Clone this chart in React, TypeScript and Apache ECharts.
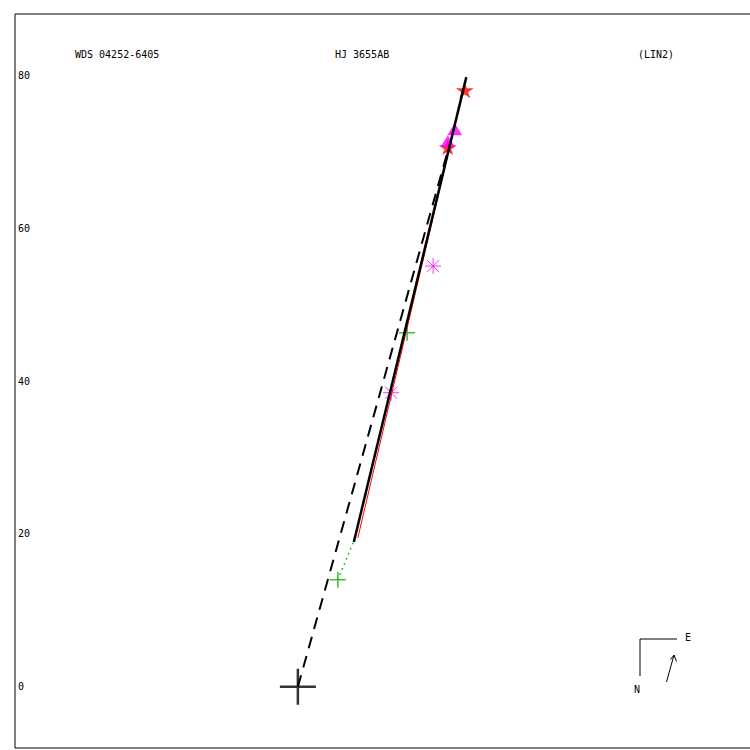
import React, { useEffect, useRef } from "react";
import * as echarts from "echarts";

// Titles
const titleLeft = "WDS 04252-6405";
const titleMid = "HJ 3655AB";
const titleRight = "(LIN2)";

// Y tick labels
const yTicks = [0, 20, 40, 60, 80];

// Linear fit (solid black)
const fitLine: number[][] = [[7.32, 18.95], [22.03, 79.74]];
// Previous / comparison path (red)
const redLine: number[][] = [[7.84, 19.48], [21.44, 77.39]];
// Dashed line from primary
const dashedLine: number[][] = [[0, 0], [19.74, 70.59]];
// O-C dotted line (green)
const ocLine: number[][] = [[5.23, 13.99], [7.32, 19.08]];

// Observations
const primary: number[][] = [[0, 0]];
const greenCross: number[][] = [[5.23, 13.99], [14.29, 46.31]];
const magentaAsterisk: number[][] = [[12.2, 38.47], [17.69, 55.03]];
const redStars: number[][] = [[19.61, 70.59], [21.83, 78.04]];
const magentaTriangles: number[][] = [[19.61, 71.37], [20.52, 72.94]];

const FONT = "DejaVu Sans Mono";

export default function App() {
  const ref = useRef<HTMLDivElement>(null);
  useEffect(() => {
    if (!ref.current) return;
    const chart = echarts.init(ref.current, null, { renderer: "svg" });
    const starPath =
      "path://M50,0 L61,35 L98,35 L68,57 L79,91 L50,70 L21,91 L32,57 L2,35 L39,35 Z";
    const crossPath = "path://M0,10L20,10M10,0L10,20";
    const asteriskPath = "path://M0,8L16,8M8,0L8,16M2,2L14,14M14,2L2,14";
    chart.setOption({
      animation: false,
      backgroundColor: "#ffffff",
      grid: {
        left: 15,
        top: 14,
        width: 741.6,
        height: 734,
        outerBoundsMode: "none",
        containLabel: false,
        show: true,
        borderColor: "#000",
        borderWidth: 1,
        backgroundColor: "transparent",
      },
      xAxis: {
        type: "value",
        min: -37,
        max: 60,
        show: false,
        splitLine: { show: false },
      },
      yAxis: {
        type: "value",
        min: -8,
        max: 88,
        axisLine: { show: false },
        axisTick: { show: false },
        splitLine: { show: false },
        axisLabel: {
          inside: true,
          margin: 3,
          customValues: yTicks,
          color: "#000",
          fontSize: 10,
          fontFamily: FONT,
        },
      },
      graphic: [
        { type: "text", left: 75, top: 49, style: { text: titleLeft, fill: "#000", font: `10px '${FONT}'` } },
        { type: "text", left: 335, top: 49, style: { text: titleMid, fill: "#000", font: `10px '${FONT}'` } },
        { type: "text", left: 638, top: 49, style: { text: titleRight, fill: "#000", font: `10px '${FONT}'` } },
        // compass
        { type: "polyline", shape: { points: [[677, 639], [640, 639], [640, 676]] }, style: { stroke: "#000", lineWidth: 1, fill: null } },
        { type: "text", x: 685, y: 632, style: { text: "E", fill: "#000", font: `10px '${FONT}'` } },
        { type: "text", x: 634, y: 684, style: { text: "N", fill: "#000", font: `10px '${FONT}'` } },
        { type: "line", shape: { x1: 666.5, y1: 682, x2: 674, y2: 655 }, style: { stroke: "#000", lineWidth: 1 } },
        { type: "polyline", shape: { points: [[670.5, 659.5], [674, 655], [676.5, 661.5]] }, style: { stroke: "#000", lineWidth: 1, fill: null } },
      ],
      series: [
        {
          type: "scatter",
          data: primary,
          symbol: crossPath,
          symbolSize: 36,
          itemStyle: { color: "none", borderColor: "#000", borderWidth: 2.5 },
          z: 2,
        },
        {
          type: "scatter",
          data: redStars,
          symbol: starPath,
          symbolSize: [18, 16],
          itemStyle: { color: "#ff0000" },
          z: 2,
        },
        {
          type: "scatter",
          data: magentaTriangles,
          symbol: "triangle",
          symbolSize: [15, 12],
          itemStyle: { color: "#ff00ff" },
          z: 2,
        },
        {
          type: "scatter",
          data: magentaAsterisk,
          symbol: asteriskPath,
          symbolSize: 16,
          itemStyle: { color: "none", borderColor: "#ff00ff", borderWidth: 1 },
          z: 2,
        },
        {
          type: "scatter",
          data: greenCross,
          symbol: crossPath,
          symbolSize: 16,
          itemStyle: { color: "none", borderColor: "#00b400", borderWidth: 1.5 },
          z: 2,
        },
        {
          type: "line",
          data: ocLine,
          symbol: "none",
          lineStyle: { color: "#00b400", width: 1.5, type: [1.5, 4] },
          z: 3,
        },
        {
          type: "line",
          data: dashedLine,
          symbol: "none",
          lineStyle: { color: "#000", width: 2, type: [12, 8] },
          z: 3,
        },
        {
          type: "line",
          data: redLine,
          symbol: "none",
          lineStyle: { color: "#ff0000", width: 1 },
          z: 3,
        },
        {
          type: "line",
          data: fitLine,
          symbol: "none",
          lineStyle: { color: "#000", width: 2.5 },
          z: 4,
        },
      ],
    });
    return () => chart.dispose();
  }, []);
  return (
    <div
      ref={ref}
      style={{ position: "fixed", left: 0, top: 0, width: 750, height: 750, background: "#fff" }}
    />
  );
}
